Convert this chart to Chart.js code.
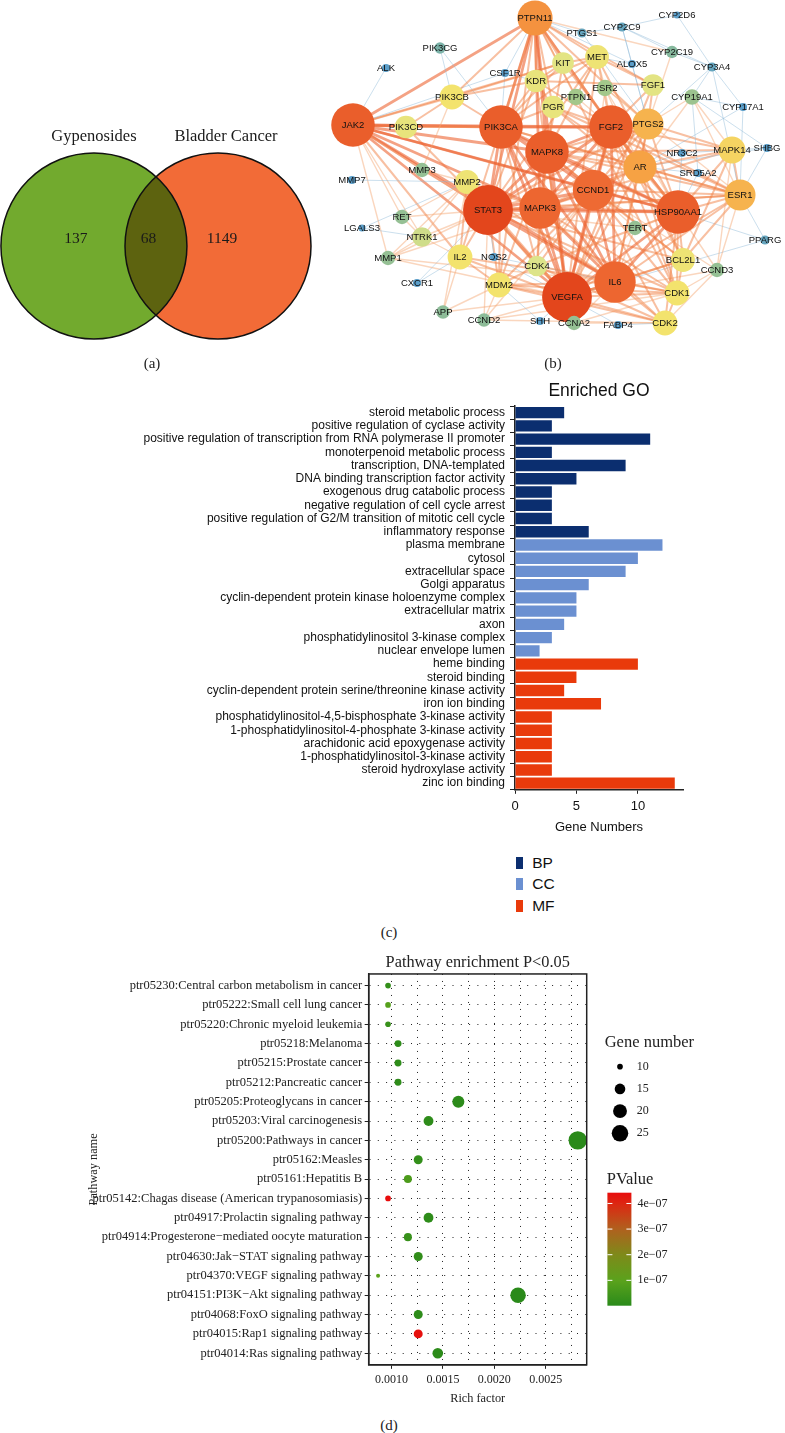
<!DOCTYPE html>
<html lang="en">
<head>
<meta charset="UTF-8">
<title>Gypenosides and bladder cancer</title>
<script src="https://cdn.jsdelivr.net/npm/chart.js"></script>
<style>
  body { margin: 0; background: #fff; }
  #page { position: relative; width: 785px; height: 1433px; overflow: hidden; background: #fff; }
  canvas, .cap, .legend { position: absolute; }
  .cap { font-family: 'Liberation Serif', serif; font-size: 15px; color: #222; transform: translate(-50%, -50%); }
  .legend { font-family: 'Liberation Sans', Arial, sans-serif; font-size: 15.5px; color: #111; }
  .legend div { height: 21.5px; display: flex; align-items: center; }
  .legend span { display: inline-block; width: 7.5px; height: 12px; margin-right: 9px; }
</style>
</head>
<body>
<div id="page">
  <canvas id="venn" width="315" height="225" style="left:0;top:120px;width:315px;height:225px"></canvas>
  <canvas id="net" width="485" height="340" style="left:300px;top:0;width:485px;height:340px"></canvas>
  <canvas id="go" width="785" height="470" style="left:0;top:371px;width:785px;height:470px"></canvas>
  <canvas id="kegg" width="785" height="460" style="left:0;top:951px;width:785px;height:460px"></canvas>
  <div class="legend" id="goLegend" style="left:515.7px;top:852px"></div>
  <div class="cap" style="left:152px;top:363px">(a)</div>
  <div class="cap" style="left:553px;top:363px">(b)</div>
  <div class="cap" style="left:389px;top:932px">(c)</div>
  <div class="cap" style="left:389px;top:1425px">(d)</div>
</div>
<script>
// ---------- (a) Venn ----------
const vennSets = ['Gypenosides', 'Bladder Cancer'];
const vennCounts = [137, 68, 1149];          // only A, both, only B
const vennCenters = [-0.667, 0.667];         // circle centres, radius = 1
const vennLabelX = [-0.86, -0.08, 0.71];
const vennColors = ['#72aa2e', '#f26b37'];
const vennXRange = [-1.677, 1.710];
const vennYRange = [-1.065, 1.355];

// ---------- (b) PPI network ----------
const netNodes = ['PTPN11','CYP2D6','PTGS1','CYP2C9','PIK3CG','CYP2C19','KIT','MET','ALOX5','CYP3A4',
  'ALK','CSF1R','KDR','ESR2','FGF1','PIK3CB','CYP19A1','PTPN1','CYP17A1','PGR',
  'JAK2','PIK3CD','PIK3CA','FGF2','PTGS2','MAPK8','NR3C2','MAPK14','SHBG','MMP3',
  'AR','MMP7','MMP2','SRD5A2','ESR1','CCND1','STAT3','MAPK3','HSP90AA1','RET',
  'LGALS3','TERT','NTRK1','PPARG','MMP1','IL2','NOS2','BCL2L1','CDK4','CCND3',
  'IL6','CXCR1','MDM2','VEGFA','CDK1','APP','CCND2','SHH','CCNA2','FABP4','CDK2'];
const netX = [235,377,282,322,140,372,263,297,332,412,
  86,205,236,305,353,152,392,276,443,253,
  53,106,201,311,348,247,382,432,467,122,
  340,52,167,398,440,293,188,240,378,102,
  62,335,122,465,88,160,194,383,237,417,
  315,117,199,267,377,143,184,240,274,318,365];
const netY = [18,15,33,27,48,52,63,57,64,67,
  68,73,81,88,85,97,97,97,107,107,
  125,127,127,127,124,152,153,150,148,170,
  167,180,182,173,195,190,210,208,212,217,
  228,228,237,240,258,257,257,260,266,270,
  282,283,285,297,293,312,320,321,323,325,323];
const netDegree = [30,3,5,5,7,8,17,19,4,5,
  4,4,18,12,17,20,11,12,4,18,
  38,18,38,38,26,38,4,22,4,10,
  28,4,19,4,26,35,44,36,38,10,
  3,10,15,5,10,20,4,19,16,10,
  36,4,20,44,20,9,9,4,10,4,20];
const netLinks = {
  STAT3: ['JAK2','IL6','VEGFA','PIK3CA','MAPK8','MAPK3','CCND1','HSP90AA1','PTPN11','IL2','MMP2','MDM2','CDK4','BCL2L1','ESR1','AR','FGF2','PTGS2','KDR','MET','NTRK1','MMP1','CCND2','TERT','PIK3CD','NOS2','CDK1','MMP3','RET','CXCR1'],
  VEGFA: ['IL6','FGF2','PIK3CA','MAPK8','MAPK3','CCND1','HSP90AA1','KDR','PTGS2','MMP2','IL2','MDM2','CDK4','BCL2L1','ESR1','AR','JAK2','PTPN11','MET','FGF1','MMP1','APP','CCND2','CCNA2','CDK2','CDK1','FABP4','SHH','TERT','NOS2','CCND3','PPARG'],
  JAK2: ['PIK3CD','PIK3CA','MAPK8','MAPK3','IL6','IL2','PTPN11','PIK3CB','ALK','MMP3','RET','NTRK1','MMP1','CCND1','FGF2','KIT','CSF1R','HSP90AA1'],
  PIK3CA: ['PIK3CB','PIK3CD','PIK3CG','MAPK8','MAPK3','FGF2','CCND1','HSP90AA1','PTPN11','KDR','MET','KIT','PGR','AR','ESR1','IL6','MDM2','CDK4','CSF1R'],
  FGF2: ['FGF1','MAPK8','MAPK3','CCND1','HSP90AA1','AR','PTGS2','ESR1','MET','KDR','IL6','PTPN11','PTPN1','ESR2','CDK1','BCL2L1','MAPK14','TERT','PGR'],
  MAPK8: ['MAPK3','CCND1','HSP90AA1','IL6','PTPN11','AR','ESR1','PTGS2','MAPK14','BCL2L1','MDM2','CDK4','KIT','PGR','MET'],
  MAPK3: ['CCND1','HSP90AA1','IL6','PTPN11','AR','PTGS2','MAPK14','CDK1','CDK2','MMP2','MMP1','ESR1','CDK4'],
  HSP90AA1: ['AR','ESR1','ESR2','PGR','MAPK14','CDK4','CDK1','CDK2','IL6','CCND1','NR3C2','TERT','BCL2L1','PTGS2','SRD5A2','CCND3','PPARG','MET','KIT'],
  IL6: ['CCND1','AR','ESR1','PTGS2','BCL2L1','CDK1','CDK2','MDM2','IL2','NOS2','MMP2','CCNA2','MMP1','TERT'],
  CCND1: ['AR','ESR1','CDK4','CDK2','CDK1','CCND3','CCNA2','PTGS2','MDM2','TERT','CCND2','BCL2L1','ESR2'],
  PTPN11: ['KIT','MET','KDR','PTPN1','CSF1R','PIK3CB','PGR','FGF1','ALOX5','CYP2C19','PTGS1','CDK1','IL2','MDM2','AR','PTGS2'],
  AR: ['ESR1','ESR2','PGR','SRD5A2','NR3C2','CYP17A1','CYP19A1','SHBG','MAPK14','PTGS2','CDK1','BCL2L1'],
  ESR1: ['ESR2','PGR','CYP19A1','SHBG','CYP17A1','MAPK14','PPARG','CCND3','BCL2L1','CYP3A4'],
  PTGS2: ['PTGS1','ALOX5','CYP2C9','CYP2C19','FGF1','ESR2','CYP19A1','MAPK14','CYP3A4'],
  CYP3A4: ['CYP2C9','CYP2C19','CYP2D6','CYP19A1','CYP17A1'],
  CYP2C9: ['CYP2C19','CYP2D6','PTGS1','ALOX5'],
  CDK1: ['CDK2','CCNA2','CCND3','CDK4','MDM2','BCL2L1','CCND2'],
  CDK2: ['CCNA2','CCND2','CDK4','MDM2','CCND3','FABP4'],
  MMP2: ['MMP1','MMP3','MMP7','APP','LGALS3','IL2','RET','NTRK1'],
  KDR: ['KIT','MET','PGR','PIK3CB','FGF1','CSF1R'],
  MET: ['KIT','FGF1','PTPN1','ESR2','ALOX5'],
  PIK3CB: ['PIK3CD','PIK3CG','KIT','MMP3'],
  MAPK14: ['SHBG','NR3C2','CYP19A1','BCL2L1','CCND3'],
  IL2: ['NTRK1','CXCR1','APP','MDM2'],
  NTRK1: ['RET','MMP1','LGALS3'],
  MDM2: ['CDK4','CCND2','APP','SHH'],
  CYP19A1: ['CYP17A1','SRD5A2','SHBG']
};

// ---------- (c) GO enrichment ----------
const goTerms = ['steroid metabolic process','positive regulation of cyclase activity',
  'positive regulation of transcription from RNA polymerase II promoter','monoterpenoid metabolic process',
  'transcription, DNA-templated','DNA binding transcription factor activity','exogenous drug catabolic process',
  'negative regulation of cell cycle arrest','positive regulation of G2/M transition of mitotic cell cycle',
  'inflammatory response','plasma membrane','cytosol','extracellular space','Golgi apparatus',
  'cyclin-dependent protein kinase holoenzyme complex','extracellular matrix','axon',
  'phosphatidylinositol 3-kinase complex','nuclear envelope lumen','heme binding','steroid binding',
  'cyclin-dependent protein serine/threonine kinase activity','iron ion binding',
  'phosphatidylinositol-4,5-bisphosphate 3-kinase activity','1-phosphatidylinositol-4-phosphate 3-kinase activity',
  'arachidonic acid epoxygenase activity','1-phosphatidylinositol-3-kinase activity','steroid hydroxylase activity',
  'zinc ion binding'];
const goCounts = [4,3,11,3,9,5,3,3,3,6, 12,10,9,6,5,5,4,3,2, 10,5,4,7,3,3,3,3,3,13];
const goGroup = ['BP','BP','BP','BP','BP','BP','BP','BP','BP','BP',
  'CC','CC','CC','CC','CC','CC','CC','CC','CC',
  'MF','MF','MF','MF','MF','MF','MF','MF','MF','MF'];
const goCategories = ['BP', 'CC', 'MF'];
const goColors = ['#0b2e6f', '#6b90d1', '#e93a0b'];
const goTicks = [0, 5, 10];

// ---------- (d) KEGG pathway bubbles ----------
const pathways = ['ptr05230:Central carbon metabolism in cancer','ptr05222:Small cell lung cancer',
  'ptr05220:Chronic myeloid leukemia','ptr05218:Melanoma','ptr05215:Prostate cancer',
  'ptr05212:Pancreatic cancer','ptr05205:Proteoglycans in cancer','ptr05203:Viral carcinogenesis',
  'ptr05200:Pathways in cancer','ptr05162:Measles','ptr05161:Hepatitis B',
  'ptr05142:Chagas disease (American trypanosomiasis)','ptr04917:Prolactin signaling pathway',
  'ptr04914:Progesterone\u2212mediated oocyte maturation','ptr04630:Jak\u2212STAT signaling pathway',
  'ptr04370:VEGF signaling pathway','ptr04151:PI3K\u2212Akt signaling pathway','ptr04068:FoxO signaling pathway',
  'ptr04015:Rap1 signaling pathway','ptr04014:Ras signaling pathway'];
const richFactor = [0.000967,0.000967,0.000967,0.001064,0.001064,0.001064,0.00165,0.00136,0.00281,0.00126,
  0.00116,0.000967,0.00136,0.00116,0.00126,0.00087,0.00223,0.00126,0.00126,0.00145];
const geneCount = [10,10,10,11,11,11,17,14,29,13, 12,10,14,12,13,9,23,13,13,15];
const pValue = [2e-8,9e-8,3e-8,1e-8,1e-8,1e-8,5e-9,1e-8,1e-9,2e-8,
  7e-8,4.42e-7,1e-8,3e-8,1.5e-8,1e-7,2e-9,1e-8,4.35e-7,5e-9];
const richMajor = [0.0010, 0.0015, 0.0020, 0.0025];
const richGrid = [0.0010, 0.00125, 0.0015, 0.00175, 0.0020, 0.00225, 0.0025, 0.00275];
const sizeLegend = [10, 15, 20, 25];
const pTicks = [1e-7, 2e-7, 3e-7, 4e-7];
const pTickLabels = ['1e\u221207', '2e\u221207', '3e\u221207', '4e\u221207'];

// ---------- helpers ----------
function hexToRgb(h) { const n = parseInt(h.slice(1), 16); return [n >> 16, (n >> 8) & 255, n & 255]; }
function ramp(stops, v) {
  if (v <= stops[0][0]) return stops[0][1];
  for (let i = 1; i < stops.length; i++) {
    if (v <= stops[i][0]) {
      const [v0, c0] = stops[i - 1], [v1, c1] = stops[i];
      const t = (v - v0) / (v1 - v0);
      const a = hexToRgb(c0), b = hexToRgb(c1);
      return `rgb(${a.map((x, k) => Math.round(x + (b[k] - x) * t)).join(',')})`;
    }
  }
  return stops[stops.length - 1][1];
}
const degStops = [[4,'#5b9ec9'],[8,'#86b89d'],[12,'#a3c78a'],[16,'#dde48a'],[20,'#f3e36d'],[24,'#f6c457'],[28,'#f6a244'],[35,'#ee6a33'],[44,'#e3461c']];
const pStops = [[0,'#2a8a1a'],[0.22,'#5aa21c'],[0.45,'#7e8a1a'],[0.68,'#b0601e'],[0.9,'#dc2812'],[1,'#e80c0c']];

const serif = '"Liberation Serif", "Times New Roman", serif';
const sans = '"Liberation Sans", Arial, sans-serif';
Chart.defaults.animation = false;
Chart.defaults.events = [];
Chart.defaults.plugins.legend.display = false;
Chart.defaults.plugins.tooltip.enabled = false;

// ---------- (a) ----------
// one unit of the venn axes in pixels (axes span the whole canvas)
const vennUnit = chart => chart.width / (vennXRange[1] - vennXRange[0]);

const vennPlugin = {
  id: 'vennPlugin',
  afterDatasetsDraw(chart) {
    const ctx = chart.ctx;
    const [a, b] = chart.getDatasetMeta(0).data;
    const r = a.options.radius;
    ctx.save();
    ctx.beginPath(); ctx.arc(a.x, a.y, r, 0, Math.PI * 2); ctx.clip();
    ctx.beginPath(); ctx.arc(b.x, b.y, r, 0, Math.PI * 2);
    ctx.fillStyle = '#5d630f'; ctx.fill();
    ctx.restore();
    ctx.save();
    ctx.lineWidth = 1.5; ctx.strokeStyle = '#111';
    [a, b].forEach(p => { ctx.beginPath(); ctx.arc(p.x, p.y, r, 0, Math.PI * 2); ctx.stroke(); });
    ctx.fillStyle = '#1a1a1a'; ctx.textAlign = 'center'; ctx.textBaseline = 'middle';
    ctx.font = '16.5px ' + serif;
    [a, b].forEach((p, i) => ctx.fillText(vennSets[i], p.x + i * 8, p.y - r - 16));
    ctx.font = '15.5px ' + serif;
    vennCounts.forEach((c, i) => ctx.fillText(String(c), chart.scales.x.getPixelForValue(vennLabelX[i]), a.y - 7));
    ctx.restore();
  }
};
new Chart(document.getElementById('venn'), {
  type: 'bubble',
  data: { datasets: [{
    data: vennCenters.map(x => ({ x, y: 0 })),
    backgroundColor: vennColors,
    borderWidth: 0,
    clip: false,
    radius: c => vennUnit(c.chart)
  }] },
  options: {
    responsive: false,
    layout: { padding: 0, autoPadding: false },
    scales: {
      x: { display: false, min: vennXRange[0], max: vennXRange[1] },
      y: { display: false, min: vennYRange[0], max: vennYRange[1] }
    }
  },
  plugins: [vennPlugin]
});

// ---------- (b) ----------
const netPlugin = {
  id: 'netPlugin',
  beforeDatasetsDraw(chart) {
    const ctx = chart.ctx;
    const pts = chart.getDatasetMeta(0).data;
    ctx.save();
    ctx.lineCap = 'round';
    for (const [from, list] of Object.entries(netLinks)) {
      const i = netNodes.indexOf(from);
      for (const to of list) {
        const j = netNodes.indexOf(to);
        if (i < 0 || j < 0) continue;
        const d = Math.min(netDegree[i], netDegree[j]);
        if (d >= 30) { ctx.strokeStyle = 'rgba(236,100,50,0.6)'; ctx.lineWidth = 2.8; }
        else if (d >= 16) { ctx.strokeStyle = 'rgba(242,130,70,0.5)'; ctx.lineWidth = 2; }
        else if (d >= 8) { ctx.strokeStyle = 'rgba(244,165,110,0.45)'; ctx.lineWidth = 1.4; }
        else { ctx.strokeStyle = 'rgba(140,185,215,0.5)'; ctx.lineWidth = 0.9; }
        ctx.beginPath(); ctx.moveTo(pts[i].x, pts[i].y); ctx.lineTo(pts[j].x, pts[j].y); ctx.stroke();
      }
    }
    ctx.restore();
  },
  afterDatasetsDraw(chart) {
    const ctx = chart.ctx;
    const pts = chart.getDatasetMeta(0).data;
    ctx.save();
    ctx.fillStyle = '#111'; ctx.textAlign = 'center'; ctx.textBaseline = 'middle';
    ctx.font = '9.5px ' + sans;
    pts.forEach((p, i) => ctx.fillText(netNodes[i], p.x, p.y));
    ctx.restore();
  }
};
new Chart(document.getElementById('net'), {
  type: 'bubble',
  data: { datasets: [{
    data: netNodes.map((n, i) => ({ x: netX[i], y: netY[i] })),
    radius: c => 2 + 0.52 * (netDegree[c.dataIndex] || 4),
    backgroundColor: c => ramp(degStops, netDegree[c.dataIndex] || 4),
    borderWidth: 0,
    clip: false
  }] },
  options: {
    responsive: false,
    layout: { padding: 0, autoPadding: false },
    scales: {
      x: { display: false, min: 0, max: 485 },
      y: { display: false, min: 0, max: 340, reverse: true }
    }
  },
  plugins: [netPlugin]
});

// ---------- (c) ----------
new Chart(document.getElementById('go'), {
  type: 'bar',
  data: {
    labels: goTerms,
    datasets: goCategories.map((g, k) => ({
      label: g,
      data: goCounts.map((v, i) => goGroup[i] === g ? v : null),
      backgroundColor: goColors[k],
      grouped: false,
      categoryPercentage: 1,
      barPercentage: 0.86
    }))
  },
  options: {
    indexAxis: 'y',
    responsive: false,
    layout: { padding: { left: 0, right: 102, top: 0, bottom: 6 } },
    plugins: {
      title: { display: true, text: 'Enriched GO', fullSize: false, color: '#111',
        font: { family: sans, size: 17.5, weight: 'normal' }, padding: { top: 10, bottom: 4 } }
    },
    scales: {
      y: {
        afterFit: s => { s.width = 515; },
        grid: { drawOnChartArea: false, tickLength: 5, color: '#222' },
        border: { color: '#222', width: 1.5 },
        ticks: { autoSkip: false, color: '#111', padding: 5, font: { family: sans, size: 12 } }
      },
      x: {
        min: 0, max: 13.67,
        afterBuildTicks: s => { s.ticks = goTicks.map(v => ({ value: v })); },
        grid: { drawOnChartArea: false, tickLength: 4, color: '#222' },
        border: { color: '#222', width: 1.5 },
        ticks: { color: '#111', padding: 5, font: { family: sans, size: 13 } },
        title: { display: true, text: 'Gene Numbers', color: '#111', font: { family: sans, size: 13 }, padding: { top: 0, bottom: 0 } }
      }
    }
  }
});
document.getElementById('goLegend').innerHTML = goCategories
  .map((g, k) => `<div><span style="background:${goColors[k]}"></span>${g}</div>`).join('');

// ---------- (d) ----------
const nMin = Math.min(...geneCount), nMax = Math.max(...geneCount);
const pMin = Math.min(...pValue), pMax = Math.max(...pValue);
const sizeOf = n => Math.sqrt(4 + 80.6 * (n - nMin) / (nMax - nMin));
const colorOf = p => ramp(pStops, (p - pMin) / (pMax - pMin));
const nearMajor = v => richMajor.some(m => Math.abs(m - v) < 1e-9);

const keggPlugin = {
  id: 'keggPlugin',
  afterDraw(chart) {
    const ctx = chart.ctx;
    const a = chart.chartArea;
    ctx.save();
    ctx.strokeStyle = '#222'; ctx.lineWidth = 1.5;
    ctx.strokeRect(a.left, a.top, a.right - a.left, a.bottom - a.top);

    // size legend
    const lx = a.right + 18;
    ctx.fillStyle = '#222'; ctx.textBaseline = 'middle'; ctx.textAlign = 'left';
    ctx.font = '16.5px ' + serif;
    ctx.fillText('Gene number', lx, 92);
    ctx.font = '12px ' + serif;
    sizeLegend.forEach((n, i) => {
      const y = 115.7 + i * 22.2;
      ctx.fillStyle = '#000';
      ctx.beginPath(); ctx.arc(lx + 15.3, y, sizeOf(n), 0, Math.PI * 2); ctx.fill();
      ctx.fillStyle = '#222';
      ctx.fillText(String(n), lx + 32, y);
    });

    // colour bar
    ctx.font = '16.5px ' + serif;
    ctx.fillText('PValue', lx + 2, 229);
    const bx = lx + 2.7, bw = 24, top = 241.7, bot = 354.7;
    const g = ctx.createLinearGradient(0, bot, 0, top);
    pStops.forEach(([t, c]) => g.addColorStop(t, c));
    ctx.fillStyle = g;
    ctx.fillRect(bx, top, bw, bot - top);
    ctx.font = '12px ' + serif;
    pTicks.forEach((p, i) => {
      const y = bot - (p - pMin) / (pMax - pMin) * (bot - top);
      ctx.strokeStyle = '#fff'; ctx.lineWidth = 1;
      ctx.beginPath(); ctx.moveTo(bx, y); ctx.lineTo(bx + 5, y); ctx.moveTo(bx + bw - 5, y); ctx.lineTo(bx + bw, y); ctx.stroke();
      ctx.fillStyle = '#222';
      ctx.fillText(pTickLabels[i], bx + bw + 6, y);
    });
    ctx.restore();
  }
};
new Chart(document.getElementById('kegg'), {
  type: 'bubble',
  data: { datasets: [{
    label: 'Gene number',
    data: pathways.map((p, i) => ({ x: richFactor[i], y: i })),
    radius: c => sizeOf(geneCount[c.dataIndex] ?? nMin),
    backgroundColor: c => colorOf(pValue[c.dataIndex] ?? pMin),
    borderWidth: 0,
    clip: false
  }] },
  options: {
    responsive: false,
    layout: { padding: { left: 82, right: 198.3, top: 0, bottom: 5 } },
    plugins: {
      title: { display: true, text: 'Pathway enrichment P<0.05', fullSize: false, color: '#222',
        font: { family: serif, size: 16.3, weight: 'normal' }, padding: { top: 2, bottom: 1.4 } }
    },
    scales: {
      x: {
        type: 'linear', min: 0.000779, max: 0.002897,
        afterBuildTicks: s => { s.ticks = richGrid.map(v => ({ value: v })); },
        ticks: { callback: v => nearMajor(v) ? v.toFixed(4) : '', color: '#222', padding: 4,
          maxRotation: 0, autoSkip: false, font: { family: serif, size: 12 } },
        grid: { color: '#222', lineWidth: 1, tickLength: 4, tickColor: c => nearMajor(c.tick.value) ? '#222' : 'rgba(0,0,0,0)' },
        border: { color: '#222', width: 1.5, dash: [1, 6] },
        title: { display: true, text: 'Rich factor', color: '#222', font: { family: serif, size: 12.3 }, padding: { top: 0, bottom: 0 } }
      },
      y: {
        type: 'linear', min: -0.6, max: pathways.length - 0.4, reverse: true,
        afterBuildTicks: s => { s.ticks = pathways.map((p, i) => ({ value: i })); },
        afterFit: s => { s.width = 286.7; },
        ticks: { callback: v => pathways[v], autoSkip: false, color: '#222', padding: 2.5,
          font: { family: serif, size: 12.5 } },
        grid: { color: '#222', lineWidth: 1, tickLength: 4, tickColor: '#222' },
        border: { color: '#222', width: 1.5, dash: [1, 7.3] },
        title: { display: true, text: 'Pathway name', color: '#222', font: { family: serif, size: 12.3 }, padding: { top: 4, bottom: 0 } }
      }
    }
  },
  plugins: [keggPlugin]
});
</script>
</body>
</html>
